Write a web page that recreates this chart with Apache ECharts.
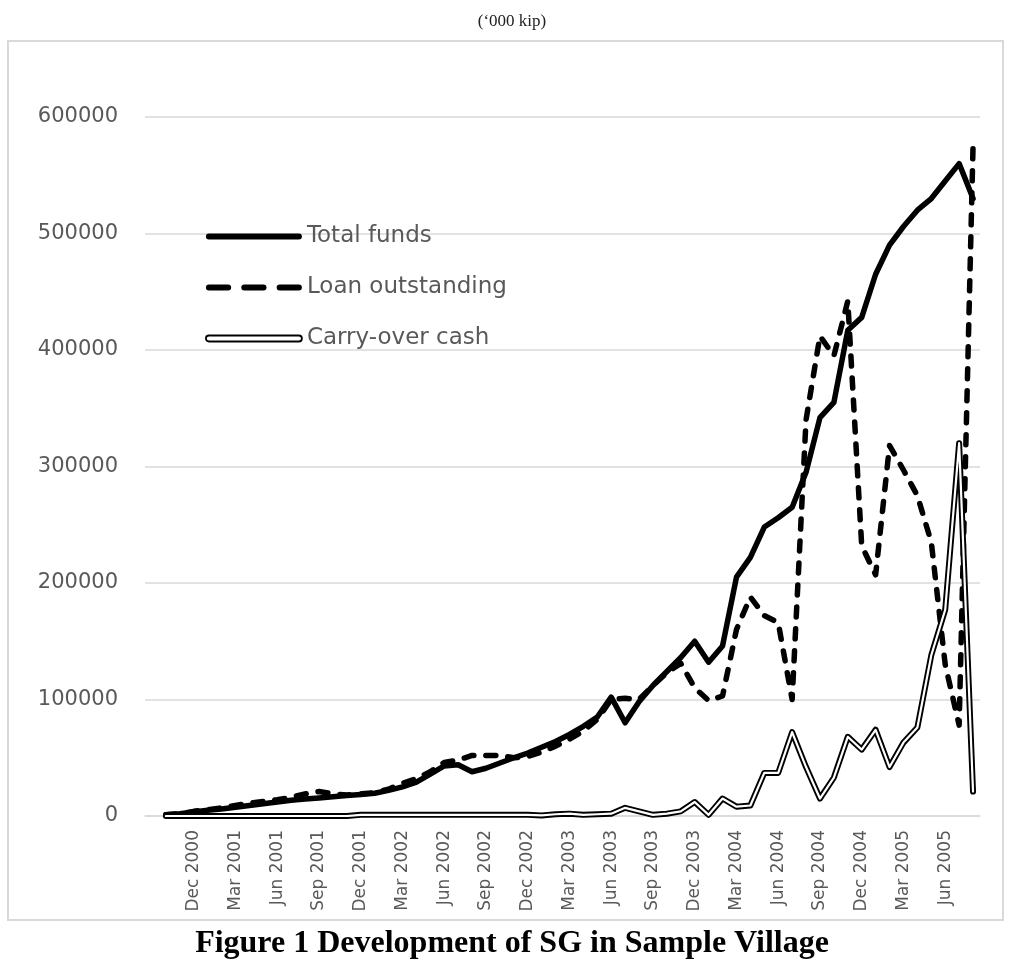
<!DOCTYPE html>
<html>
<head>
<meta charset="utf-8">
<script src="https://cdn.jsdelivr.net/npm/echarts@6/dist/echarts.min.js"></script>
<style>
html,body{margin:0;padding:0;background:#fff;}
#chart{width:1024px;height:973px;}
</style>
</head>
<body>
<div id="chart"></div>
<script>
const months = [
  'Sep 2000','Oct 2000','Nov 2000','Dec 2000',
  'Jan 2001','Feb 2001','Mar 2001','Apr 2001','May 2001','Jun 2001','Jul 2001','Aug 2001','Sep 2001','Oct 2001','Nov 2001','Dec 2001',
  'Jan 2002','Feb 2002','Mar 2002','Apr 2002','May 2002','Jun 2002','Jul 2002','Aug 2002','Sep 2002','Oct 2002','Nov 2002','Dec 2002',
  'Jan 2003','Feb 2003','Mar 2003','Apr 2003','May 2003','Jun 2003','Jul 2003','Aug 2003','Sep 2003','Oct 2003','Nov 2003','Dec 2003',
  'Jan 2004','Feb 2004','Mar 2004','Apr 2004','May 2004','Jun 2004','Jul 2004','Aug 2004','Sep 2004','Oct 2004','Nov 2004','Dec 2004',
  'Jan 2005','Feb 2005','Mar 2005','Apr 2005','May 2005','Jun 2005','Jul 2005','Aug 2005'
];

const totalFunds = [
  null, 1000, 2000, 3500,
  5000, 6000, 7500, 9000, 10500, 12000, 13500, 14500, 15500, 16500, 17500, 18500,
  19500, 22000, 25000, 29000, 36000, 43000, 44000, 38000, 41000, 45500, 50000, 54000,
  59000, 64000, 70000, 77000, 85000, 102000, 80000, 98000, 112000, 124000, 136000, 150000,
  132000, 146000, 205000, 222000, 248000, 256000, 265000, 295000, 342000, 355000, 417000, 428000,
  465000, 490000, 506000, 520000, 530000, 545000, 560000, 530000
];

const loanOutstanding = [
  null, 1000, 2000, 4000,
  5500, 7000, 9000, 11000, 12500, 14000, 16000, 19000, 21000, 19000, 18000, 19000,
  20000, 23000, 28000, 32000, 38000, 46000, 48000, 52000, 52000, 52000, 50000, 51000,
  55000, 60000, 66000, 73000, 83000, 100000, 101000, 100000, 112000, 123000, 131000, 110000,
  99000, 103000, 160000, 188000, 172000, 166000, 100000, 340000, 412000, 395000, 442000, 232000,
  207000, 318000, 297000, 275000, 235000, 130000, 78000, 575000
];

const carryOverCash = [
  null, 0, 0, 0,
  0, 0, 0, 0, 0, 0, 0, 0, 0, 0, 0, 1000,
  1000, 1000, 1000, 1000, 1000, 1000, 1000, 1000, 1000, 1000, 1000, 1000,
  500, 1500, 2000, 1000, 1500, 2000, 7000, 4000, 1000, 2000, 4000, 12000,
  1000, 15000, 8000, 9000, 37000, 37000, 72000, 42000, 15000, 33000, 68000, 57000,
  74000, 42000, 63000, 76000, 138000, 177000, 320000, 21000
];

const yTicks = { min: 0, max: 600000, interval: 100000 };

const chart = echarts.init(document.getElementById('chart'), null, { renderer: 'canvas' });

const labelFont = 'DejaVu Sans';
const gray = '#595959';

chart.setOption({
  animation: false,
  backgroundColor: '#ffffff',
  title: [
    {
      text: '(\u2018000 kip)',
      left: 'center',
      top: 8,
      textStyle: { fontFamily: 'Liberation Serif', fontSize: 17, fontWeight: 'normal', color: '#222' }
    },
    {
      text: 'Figure 1 Development of SG in Sample Village',
      left: 'center',
      top: 923,
      textStyle: { fontFamily: 'Liberation Serif', fontSize: 32, fontWeight: 'bold', color: '#000' }
    }
  ],
  graphic: [
    {
      type: 'rect',
      shape: { x: 8, y: 41, width: 995, height: 879 },
      style: { fill: 'none', stroke: '#d9d9d9', lineWidth: 2 },
      silent: true,
      z: -10
    }
  ],
  legend: {
    orient: 'vertical',
    left: 200,
    top: 220,
    itemWidth: 96,
    itemHeight: 7,
    itemGap: 28,
    textStyle: { fontFamily: labelFont, fontSize: 23, color: gray, lineHeight: 20 },
    data: [
      {
        name: 'Total funds',
        icon: 'path://M3,0 H93 A3,3 0 0 1 93,6 H3 A3,3 0 0 1 3,0 Z',
        itemStyle: { color: '#000', borderWidth: 0 }
      },
      {
        name: 'Loan outstanding',
        icon: 'path://M3,0 H22 A3,3 0 0 1 22,6 H3 A3,3 0 0 1 3,0 Z M38,0 H57 A3,3 0 0 1 57,6 H38 A3,3 0 0 1 38,0 Z M73,0 H92 A3,3 0 0 1 92,6 H73 A3,3 0 0 1 73,0 Z',
        itemStyle: { color: '#000', borderWidth: 0 }
      },
      {
        name: 'Carry-over cash',
        icon: 'path://M3,0 H93 A3,3 0 0 1 93,6 H3 A3,3 0 0 1 3,0 Z',
        itemStyle: { color: '#fff', borderColor: '#000', borderWidth: 1.8 }
      }
    ]
  },
  grid: { left: 145, right: 44, top: 117, bottom: 157, containLabel: false },
  xAxis: {
    type: 'category',
    boundaryGap: true,
    data: months,
    axisTick: { show: false },
    axisLine: { show: true, lineStyle: { color: '#d9d9d9', width: 1.5 } },
    axisLabel: {
      rotate: 90,
      margin: 14,
      fontFamily: labelFont,
      fontSize: 17,
      color: gray,
      interval: function (index) { return index > 0 && index % 3 === 0; }
    },
    splitLine: { show: false }
  },
  yAxis: {
    type: 'value',
    min: yTicks.min,
    max: yTicks.max,
    interval: yTicks.interval,
    axisLine: { show: false },
    axisTick: { show: false },
    axisLabel: {
      fontFamily: labelFont, fontSize: 21, color: gray, margin: 27,
      formatter: function (v) { return String(v); }
    },
    splitLine: { show: true, lineStyle: { color: '#d9d9d9', width: 1.5 } }
  },
  series: [
    {
      name: 'Total funds',
      type: 'line',
      data: totalFunds,
      symbol: 'none',
      lineStyle: { color: '#000', width: 5.5, cap: 'round', join: 'round' },
      itemStyle: { color: '#000' },
      z: 3
    },
    {
      name: 'Loan outstanding',
      type: 'line',
      data: loanOutstanding,
      symbol: 'none',
      lineStyle: { color: '#000', width: 5.5, type: [10, 12], cap: 'round', join: 'round' },
      itemStyle: { color: '#000' },
      z: 4
    },
    {
      name: 'Carry-over cash',
      type: 'line',
      data: carryOverCash,
      symbol: 'none',
      lineStyle: { color: '#000', width: 6, join: 'round', cap: 'round' },
      itemStyle: { color: '#000' },
      z: 5
    },
    {
      name: 'Carry-over cash (inner)',
      type: 'line',
      data: carryOverCash,
      symbol: 'none',
      lineStyle: { color: '#fff', width: 2.2, join: 'round', cap: 'round' },
      itemStyle: { color: '#fff' },
      silent: true,
      z: 6
    }
  ]
});
</script>
</body>
</html>
